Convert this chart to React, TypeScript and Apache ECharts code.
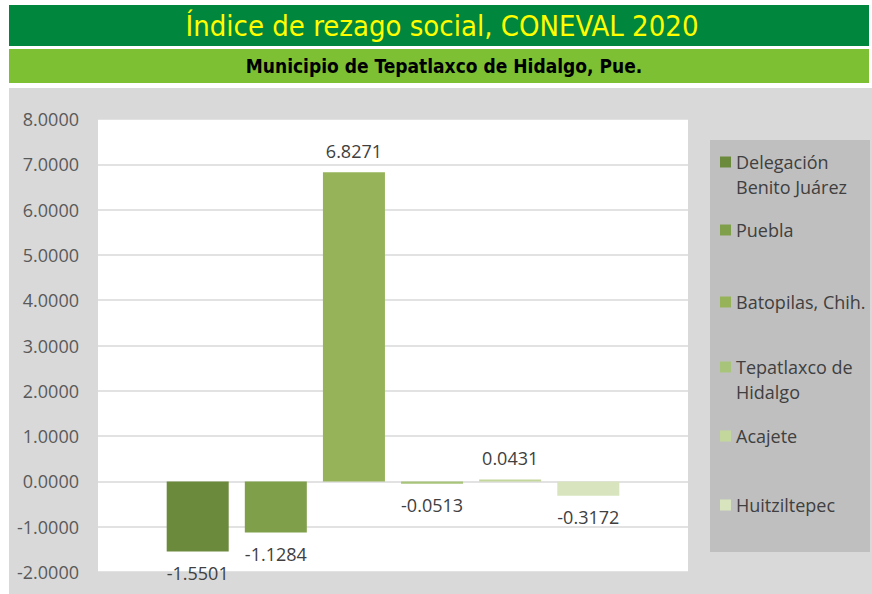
import React, { useEffect, useRef } from "react";
import * as echarts from "echarts";

const titleText = "Índice de rezago social, CONEVAL 2020";
const subtitleText = "Municipio de Tepatlaxco de Hidalgo, Pue.";
const seriesNames = [
  "Delegación Benito Juárez",
  "Puebla",
  "Batopilas, Chih.",
  "Tepatlaxco de Hidalgo",
  "Acajete",
  "Huitziltepec",
];
const legendLabels = [
  "Delegación\nBenito Juárez",
  "Puebla",
  "Batopilas, Chih.",
  "Tepatlaxco de\nHidalgo",
  "Acajete",
  "Huitziltepec",
];
const values = [-1.5501, -1.1284, 6.8271, -0.0513, 0.0431, -0.3172];
const colors = ["#6C8A3B", "#809F4B", "#96B35A", "#A8C47A", "#C3D69B", "#D7E4BD"];
const categories = [""];
const yMin = -2;
const yMax = 8;
const yInterval = 1;

const legendIconCenters = [162, 230, 302, 367, 436, 505];

export default function App() {
  const ref = useRef<HTMLDivElement>(null);
  useEffect(() => {
    if (!ref.current) return;
    const chart = echarts.init(ref.current, null, { renderer: "svg" });
    const font = "'Open Sans', 'Noto Sans', sans-serif";
    const narrow = "'Liberation Sans Narrow', 'DejaVu Sans Condensed', 'Liberation Sans', sans-serif";

    const legends = seriesNames.map((name, i) => {
      const twoLine = legendLabels[i].includes("\n");
      return {
        show: true,
        orient: "vertical",
        left: 720,
        top: legendIconCenters[i] - (twoLine ? 37.5 : 12.5),
        data: [name],
        icon: "rect",
        itemWidth: 11,
        itemHeight: 11,
        padding: 0,
        selectedMode: false,
        formatter: () => (twoLine ? "\n" + legendLabels[i] : legendLabels[i]),
        textStyle: {
          fontFamily: font,
          fontSize: 18,
          color: "#404040",
          lineHeight: 25,
        },
      };
    });

    const option: any = {
      animation: false,
      backgroundColor: "#ffffff",
      graphic: [
        { type: "rect", shape: { x: 9, y: 5, width: 860, height: 41 }, style: { fill: "#00873D" }, z: -10 },
        { type: "rect", shape: { x: 9, y: 49, width: 860, height: 34 }, style: { fill: "#7DC033" }, z: -10 },
        { type: "rect", shape: { x: 9, y: 88, width: 863, height: 506 }, style: { fill: "#D9D9D9" }, z: -10 },
        { type: "rect", shape: { x: 710, y: 140, width: 160, height: 412 }, style: { fill: "#BFBFBF" }, z: -9 },
        {
          type: "text",
          x: 442,
          y: 26,
          style: {
            text: titleText,
            fill: "#FFFF00",
            font: `29px ${narrow}`,
            align: "center",
            verticalAlign: "middle",
          },
        },
        {
          type: "text",
          x: 444,
          y: 66,
          style: {
            text: subtitleText,
            fill: "#000000",
            font: `bold 19px ${narrow}`,
            align: "center",
            verticalAlign: "middle",
          },
        },
      ],
      legend: legends,
      grid: {
        left: 98,
        top: 119,
        width: 590,
        height: 453,
        show: true,
        backgroundColor: "#ffffff",
        borderWidth: 0,
      },
      xAxis: {
        type: "category",
        data: categories,
        axisLine: { show: false },
        axisTick: { show: false },
        axisLabel: { show: false },
      },
      yAxis: {
        type: "value",
        min: yMin,
        max: yMax,
        interval: yInterval,
        axisLine: { show: false },
        axisTick: { show: false },
        splitLine: { lineStyle: { color: "#D9D9D9", width: 1.5 } },
        axisLabel: {
          formatter: (v: number) => v.toFixed(4),
          fontFamily: font,
          fontSize: 18,
          color: "#595959",
          margin: 19,
        },
      },
      series: seriesNames.map((name, i) => ({
        name,
        type: "bar",
        data: [values[i]],
        barWidth: 62,
        barGap: "26%",
        itemStyle: { color: colors[i] },
        label: {
          show: true,
          position: values[i] >= 0 ? "top" : "bottom",
          distance: 12,
          formatter: (p: any) => Number(p.value).toFixed(4),
          fontFamily: font,
          fontSize: 18,
          color: "#404040",
        },
      })),
    };
    chart.setOption(option);
    return () => chart.dispose();
  }, []);
  return (
    <div
      ref={ref}
      style={{ position: "fixed", left: 0, top: 0, width: 872, height: 594 }}
    />
  );
}
